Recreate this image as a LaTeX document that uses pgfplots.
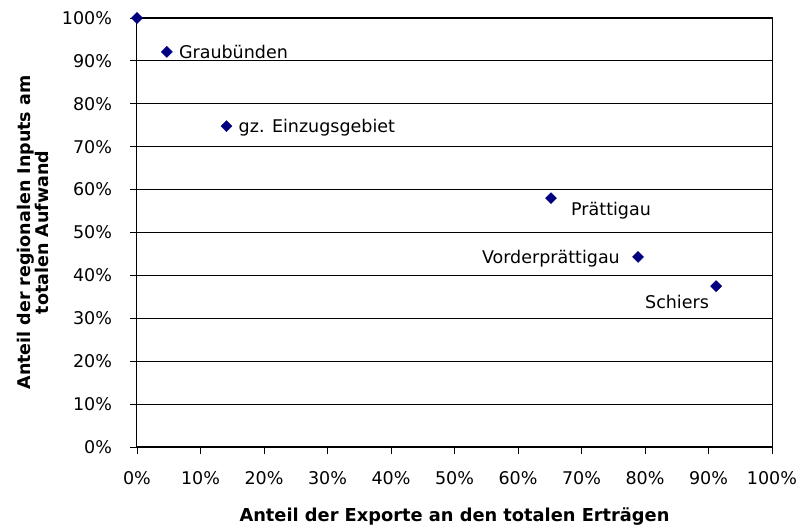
\documentclass[border=0pt]{standalone}
\usepackage{fontspec}
\setmainfont{DejaVu Sans}
\usepackage{pgfplots}
\pgfplotsset{compat=1.18}
\definecolor{navy}{RGB}{0,0,128}
\pgfplotstableread{
x y
0 100
4.7 92.1
14.1 74.8
65.2 58.0
78.9 44.3
91.2 37.5
}\pts
\begin{document}
\fontsize{17.5}{20}\selectfont
\begin{tikzpicture}
\begin{axis}[
  scale only axis, width=635pt, height=429pt,
  xmin=0, xmax=100, ymin=0, ymax=100,
  xtick={0,10,...,100}, ytick={0,10,...,100},
  xticklabel={\pgfmathprintnumber[assume math mode=true]{\tick}\%},
  yticklabel={\pgfmathprintnumber[assume math mode=true]{\tick}\%},
  ymajorgrids, grid style={black, line width=0.9pt},
  axis line style={black, line width=1pt},
  tick style={black, line width=0.9pt},
  tick align=outside, major tick length=7pt,
  xtick pos=bottom, ytick pos=left,
  ticklabel style={font=\fontsize{17.5}{20}\selectfont},
  xticklabel style={yshift=-11pt},
  yticklabel style={xshift=-12pt},
  xlabel={\bfseries Anteil der Exporte an den totalen Erträgen},
  ylabel={\bfseries Anteil der regionalen Inputs am\\\bfseries totalen Aufwand},
  ylabel style={at={(axis description cs:0,0.5)}, anchor=center, yshift=104pt, align=center, font=\fontsize{17.5}{18.5}\selectfont},
  xlabel style={at={(axis description cs:0.5,0)}, anchor=center, yshift=-70pt, font=\fontsize{17.8}{20}\selectfont},
  clip=false,
]
\addplot[only marks, mark=square*, mark size=3.9pt, mark options={rotate=45, fill=navy, draw=navy}] table[x=x,y=y] {\pts};
\node[anchor=west, inner sep=0pt, xshift=12pt] at (axis cs:4.7,92.1) {Graubünden};
\node[anchor=west, inner sep=0pt, xshift=12pt, yshift=-2pt] at (axis cs:14.1,74.8) {gz. Einzugsgebiet};
\node[anchor=west, inner sep=0pt, xshift=20pt, yshift=-12pt] at (axis cs:65.2,58.0) {Prättigau};
\node[anchor=east, inner sep=0pt, xshift=-18pt, yshift=-2pt] at (axis cs:78.9,44.3) {Vorderprättigau};
\node[anchor=east, inner sep=0pt, xshift=-7pt, yshift=-16pt] at (axis cs:91.2,37.5) {Schiers};
\end{axis}
\pgfresetboundingbox
\path[use as bounding box] ([shift={(-137pt,-82pt)}]current axis.south west) rectangle ([shift={(29pt,18pt)}]current axis.north east);
\end{tikzpicture}
\end{document}
